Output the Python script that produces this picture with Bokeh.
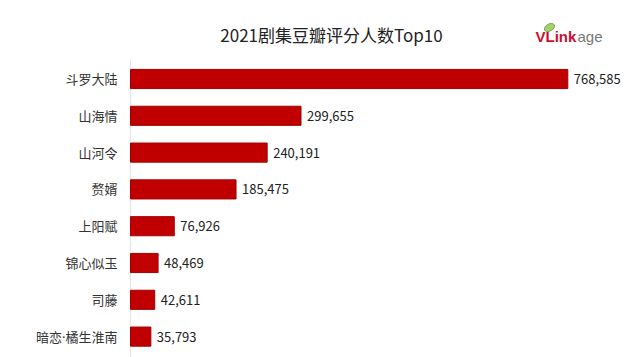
from bokeh.plotting import figure
from bokeh.models import ColumnDataSource, Range1d
from bokeh.core.properties import value
from bokeh.embed import file_html
from bokeh.resources import INLINE

dramas = ["斗罗大陆", "山海情", "山河令", "赘婿", "上阳赋", "锦心似玉", "司藤", "暗恋·橘生淮南"]
ratings = [768585, 299655, 240191, 185475, 76926, 48469, 42611, 35793]
labels = [f"{v:,}" for v in ratings]
title_text = "2021剧集豆瓣评分人数Top10"
logo_main = "VLink"
logo_tail = "age"

FONT = "Noto Sans CJK SC"
LABEL_FONT = "Noto Sans, Noto Sans CJK SC"
W, H = 640, 357
LEFT = 130          # pixel where bars start
K = 1757.5          # value units per pixel
ROW = 36.8          # pixels per row
TOP = 78.5          # pixel y of first row centre


def px_x(px):
    return (px - LEFT) * K


def px_y(py):
    return (py - TOP) / ROW


rank = list(range(len(dramas)))
src = ColumnDataSource(dict(name=dramas, val=ratings, lab=labels, pos=rank,
                            zero=[0] * len(rank)))

p = figure(width=W, height=H, output_backend="svg", toolbar_location=None,
           x_range=Range1d(px_x(0), px_x(W)), y_range=Range1d(px_y(H), px_y(0)),
           min_border=0)
p.outline_line_color = None
p.background_fill_color = "white"
p.border_fill_color = "white"
p.grid.visible = False
p.axis.visible = False

# faint category axis line
p.segment(x0=0, x1=0, y0=px_y(60), y1=px_y(H), line_color="#e3e3e3", line_width=1)

p.hbar(y="pos", right="val", left=0, height=0.52, source=src,
       fill_color="#C00000", line_color="#A50000", line_width=1)

p.text(x="val", y="pos", text="lab", source=src, x_offset=6,
       text_baseline="middle", text_align="left",
       text_font=value(FONT), text_font_size="13px", text_color="#222222")

p.text(x="zero", y="pos", text="name", source=src, x_offset=-13,
       text_baseline="middle", text_align="right",
       text_font=value(LABEL_FONT), text_font_size="13px", text_color="#333333")

# title
p.text(x=[px_x(331)], y=[px_y(34)], text=[title_text], text_align="center",
       text_baseline="middle", text_font=value(FONT), text_font_size="17px",
       text_color="#222222")

# logo
p.ellipse(x=[px_x(549)], y=[px_y(27)], width=11, height=7, angle=0.5,
          width_units="screen", height_units="screen",
          fill_color="#a5d070", line_color="#7aa84a", line_width=1)
p.text(x=[px_x(535)], y=[px_y(36)], text=[logo_main], text_align="left",
       text_baseline="middle", text_font=value("Liberation Sans"),
       text_font_style="bold", text_font_size="15px", text_color="#C8102E")
p.text(x=[px_x(577)], y=[px_y(36)], text=[logo_tail], text_align="left",
       text_baseline="middle", text_font=value("Liberation Sans"),
       text_font_size="15px", text_color="#777777")

open("out.html", "w").write(file_html(p, INLINE))
